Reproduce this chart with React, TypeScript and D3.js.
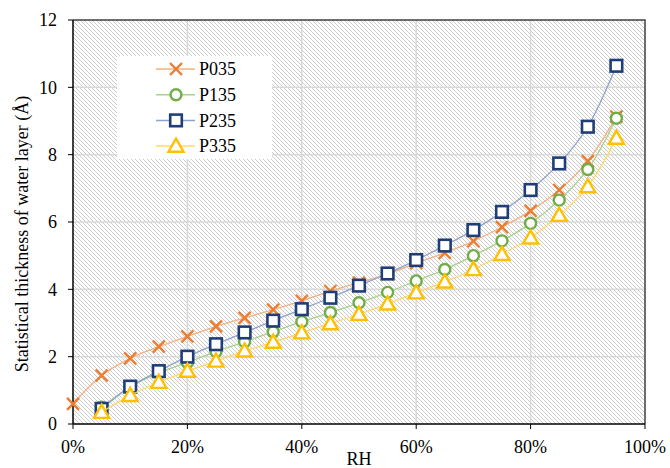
import React from "react"
import * as d3 from "d3"

const rh = [0, 5, 10, 15, 20, 25, 30, 35, 40, 45, 50, 55, 60, 65, 70, 75, 80, 85, 90, 95]
const p035 = [0.6, 1.44, 1.95, 2.3, 2.6, 2.9, 3.15, 3.4, 3.66, 3.95, 4.2, 4.45, 4.78, 5.08, 5.43, 5.85, 6.33, 6.95, 7.81, 9.13]
const p135 = [null, 0.5, 1.1, 1.52, 1.83, 2.15, 2.44, 2.74, 3.04, 3.31, 3.6, 3.91, 4.25, 4.59, 5.0, 5.44, 5.96, 6.65, 7.56, 9.08]
const p235 = [null, 0.45, 1.11, 1.57, 2.0, 2.37, 2.72, 3.07, 3.41, 3.75, 4.11, 4.47, 4.87, 5.3, 5.76, 6.3, 6.95, 7.74, 8.83, 10.64]
const p335 = [null, 0.35, 0.85, 1.24, 1.57, 1.87, 2.17, 2.43, 2.71, 2.98, 3.26, 3.57, 3.9, 4.22, 4.59, 5.04, 5.53, 6.2, 7.05, 8.49]

const seriesNames = ["P035", "P135", "P235", "P335"]
const xTicks = [0, 20, 40, 60, 80, 100]
const yTicks = [0, 2, 4, 6, 8, 10, 12]

const W = 670
const H = 468
const margin = { left: 73, right: 25, top: 20, bottom: 44 }
const font = "Liberation Serif"

const styles = [
  { marker: "x", color: "#ED7D31", line: "#F4B183" },
  { marker: "circle", color: "#70AD47", line: "#A9D18E" },
  { marker: "square", color: "#1F3E78", line: "#8FA3C8" },
  { marker: "triangle", color: "#FFC000", line: "#FFD966" },
]

function Marker({ type, color, x, y }: { type: string; color: string; x: number; y: number }) {
  if (type === "x") {
    const s = 6
    return (
      <path d={`M${x - s},${y - s}L${x + s},${y + s}M${x - s},${y + s}L${x + s},${y - s}`} stroke={color} strokeWidth={2.4} fill="none" />
    )
  }
  if (type === "circle") return <circle cx={x} cy={y} r={5.5} fill="white" stroke={color} strokeWidth={2.4} />
  if (type === "square") return <rect x={x - 5.8} y={y - 5.8} width={11.6} height={11.6} fill="white" stroke={color} strokeWidth={2.6} />
  const s = 7.5
  return <path d={`M${x},${y - s}L${x + s},${y + s * 0.75}L${x - s},${y + s * 0.75}Z`} fill="white" stroke={color} strokeWidth={2.4} />
}

export default function App() {
  const x = d3.scaleLinear().domain([0, 100]).range([margin.left, W - margin.right])
  const y = d3.scaleLinear().domain([0, 12]).range([H - margin.bottom, margin.top])
  const series = [p035, p135, p235, p335]

  const line = d3
    .line<[number, number | null]>()
    .defined((d) => d[1] != null)
    .x((d) => x(d[0]))
    .y((d) => y(d[1] as number))
    .curve(d3.curveCatmullRom)

  const x0 = x(0)
  const x1 = x(100)
  const y0 = y(0)
  const y1 = y(12)

  return (
    <svg width={W} height={H} style={{ position: "absolute", left: 0, top: 0 }} fontFamily={font}>
      <defs>
        <pattern id="hatch" width={4} height={4} patternUnits="userSpaceOnUse">
          <path d="M0,0L4,4M-1,3L1,5M3,-1L5,1" stroke="#cccccc" strokeWidth={1} />
        </pattern>
      </defs>
      <rect x={0} y={0} width={W} height={H} fill="white" />
      <rect x={x0} y={y1} width={x1 - x0} height={y0 - y1} fill="url(#hatch)" />
      {/* grid */}
      {xTicks.slice(1, -1).map((t) => (
        <line key={"gx" + t} x1={x(t)} x2={x(t)} y1={y1} y2={y0} stroke="#d9d9d9" strokeWidth={1.5} />
      ))}
      {yTicks.slice(1, -1).map((t) => (
        <line key={"gy" + t} x1={x0} x2={x1} y1={y(t)} y2={y(t)} stroke="#d9d9d9" strokeWidth={1.5} />
      ))}
      {/* border */}
      <path d={`M${x0},${y1}H${x1}V${y0}`} fill="none" stroke="#404040" strokeWidth={1.5} />
      {/* axes */}
      <line x1={x0} x2={x0} y1={y1} y2={y0} stroke="black" strokeWidth={1.5} />
      <line x1={x0} x2={x1} y1={y0} y2={y0} stroke="black" strokeWidth={1.5} />
      {yTicks.map((t) => (
        <g key={"yt" + t}>
          <line x1={x0 - 5} x2={x0} y1={y(t)} y2={y(t)} stroke="black" strokeWidth={1} />
          <text x={x0 - 16} y={y(t)} dy="0.35em" textAnchor="end" fontSize={18} fontFamily={font}>
            {t}
          </text>
        </g>
      ))}
      {xTicks.map((t) => (
        <g key={"xt" + t}>
          <line x1={x(t)} x2={x(t)} y1={y0} y2={y0 + 5} stroke="black" strokeWidth={1} />
          <text x={x(t)} y={y0 + 29} textAnchor="middle" fontSize={18} fontFamily={font}>
            {t}%
          </text>
        </g>
      ))}
      <text x={(x0 + x1) / 2} y={H - 3} textAnchor="middle" fontSize={18} fontFamily={font}>
        RH
      </text>
      <text transform={`translate(28,234) rotate(-90)`} textAnchor="middle" fontSize={18} fontFamily={font}>
        Statistical thickness of water layer (Å)
      </text>
      {/* series */}
      {series.map((vals, i) => {
        const pts = rh.map((r, j) => [r, vals[j]] as [number, number | null])
        return (
          <g key={seriesNames[i]}>
            <path d={line(pts) || ""} fill="none" stroke={styles[i].line} strokeWidth={1.3} />
            {pts
              .filter((p) => p[1] != null)
              .map((p, j) => (
                <Marker key={j} type={styles[i].marker} color={styles[i].color} x={x(p[0])} y={y(p[1] as number)} />
              ))}
          </g>
        )
      })}
      {/* legend */}
      <g>
        <rect x={117} y={56} width={155} height={103} fill="white" />
        {seriesNames.map((n, i) => {
          const ly = 69 + i * 25.7
          return (
            <g key={n}>
              <line x1={156} x2={195} y1={ly} y2={ly} stroke={styles[i].line} strokeWidth={1.5} />
              <Marker type={styles[i].marker} color={styles[i].color} x={176} y={ly} />
              <text x={199} y={ly} dy="0.35em" fontSize={18} fontFamily={font}>
                {n}
              </text>
            </g>
          )
        })}
      </g>
    </svg>
  )
}
